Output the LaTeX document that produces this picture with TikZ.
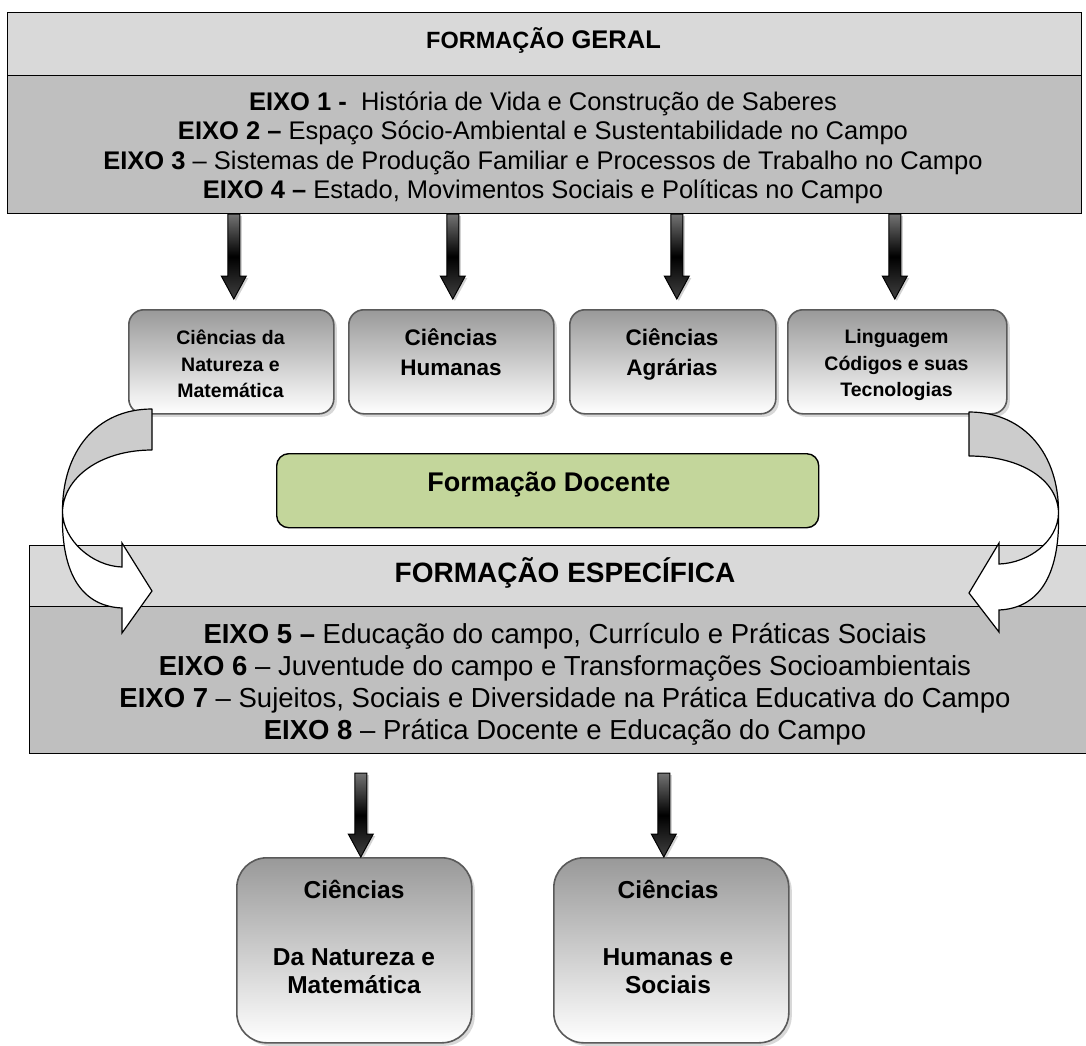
\documentclass[tikz,border=0pt]{standalone}
\usepackage{fontspec}
\setmainfont{Liberation Sans}
\usetikzlibrary{calc,shadows}
\definecolor{hdrfill}{HTML}{D9D9D9}
\definecolor{bodyfill}{HTML}{BFBFBF}
\definecolor{docfill}{HTML}{C3D69B}
\definecolor{edgegray}{HTML}{5A5A5A}
\definecolor{backfill}{HTML}{CCCCCC}
\newcommand\fsz[1]{\fontsize{#1}{#1}\selectfont}
\newcommand\fatarrow[2]{%
  \path[fatarrowstyle] let \p1=#1, \p2=#2 in
   (\x2-6pt,\y1) -- (\x2-6pt,\y2+23pt) -- (\x2-12.5pt,\y2+23pt) -- (\x2,\y2)
   -- (\x2+12.5pt,\y2+23pt) -- (\x2+6pt,\y2+23pt) -- (\x2+6pt,\y1) -- cycle;}
\tikzset{
  panel/.style={draw=black, line width=1.2pt, inner sep=0pt, anchor=north west},
  areabox/.style={draw=edgegray, line width=1.6pt, rounded corners=15pt, top color=black!40, bottom color=white, inner sep=0pt, anchor=north west, drop shadow={shadow xshift=3pt, shadow yshift=-3pt, opacity=.3}},
  bigbox/.style={areabox, rounded corners=30pt},
  docbox/.style={draw=black, line width=1.4pt, rounded corners=12pt, fill=docfill, inner sep=0pt, anchor=north west},
  txt/.style={anchor=base, inner sep=0pt},
  fatarrowstyle/.style={draw=black, line width=1pt, top color=black!55, bottom color=black!75, middle color=black, drop shadow={shadow xshift=2pt, shadow yshift=-2pt, opacity=.35}},
  backband/.style={draw=black, line width=1.2pt, fill=backfill, line join=round},
  frontband/.style={draw=black, line width=1.2pt, fill=white, line join=miter},
}
\begin{document}
\begin{tikzpicture}[x=1pt,y=-1pt]
\useasboundingbox (0,0) rectangle (1086,1045);
\clip (0,0) rectangle (1086,1045);
\fill[white] (0,0) rectangle (1086,1045);

% ---- Formacao Geral
\node[panel, fill=hdrfill, minimum width=1074pt, minimum height=63pt] (geralh) at (7,12) {};
\node[panel, fill=bodyfill, minimum width=1074pt, minimum height=138pt] (geralb) at (7,75) {};
\node[txt, font=\fsz{25.5}\bfseries] (geralt) at (543.5,48) {{\fsz{23.5}FORMAÇÃO} GERAL};
\node[txt, font=\fsz{25.5}] (e1) at (543,110) {\textbf{EIXO 1 -}\ \ História de Vida e Construção de Saberes};
\node[txt, font=\fsz{25.5}] (e2) at (543,139.5) {\textbf{EIXO 2 –} Espaço Sócio-Ambiental e Sustentabilidade no Campo};
\node[txt, font=\fsz{25.5}] (e3) at (543,169) {\textbf{EIXO 3} – Sistemas de Produção Familiar e Processos de Trabalho no Campo};
\node[txt, font=\fsz{25.5}] (e4) at (543,198) {\textbf{EIXO 4 –} Estado, Movimentos Sociais e Políticas no Campo};

% ---- area boxes
\node[areabox, minimum width=205pt, minimum height=104pt] (c1) at (128,309) {};
\node[areabox, minimum width=205pt, minimum height=104pt] (c2) at (348,309) {};
\node[areabox, minimum width=206pt, minimum height=104pt] (c3) at (569,309) {};
\node[areabox, minimum width=219pt, minimum height=104pt] (c4) at (787,309) {};

\node[txt, font=\fsz{19.5}\bfseries] (c1a) at (230.5,344) {Ciências da};
\node[txt, font=\fsz{19.5}\bfseries] (c1b) at (230.5,371.5) {Natureza e};
\node[txt, font=\fsz{19.5}\bfseries] (c1c) at (230.5,397.5) {Matemática};
\node[txt, font=\fsz{22.5}\bfseries] (c2a) at (451,345) {Ciências};
\node[txt, font=\fsz{22.5}\bfseries] (c2b) at (451,375) {Humanas};
\node[txt, font=\fsz{22.5}\bfseries] (c3a) at (672,345) {Ciências};
\node[txt, font=\fsz{22.5}\bfseries] (c3b) at (672,375) {Agrárias};
\node[txt, font=\fsz{19.5}\bfseries] (c4a) at (896.5,343) {Linguagem};
\node[txt, font=\fsz{19.5}\bfseries] (c4b) at (896.5,370) {Códigos e suas};
\node[txt, font=\fsz{19.5}\bfseries] (c4c) at (896.5,396) {Tecnologias};

\fatarrow{(geralb.south -| c1.north)}{([xshift=2.5pt,yshift=10pt]c1.north)}
\fatarrow{(geralb.south -| c2.north)}{([xshift=1.5pt,yshift=10pt]c2.north)}
\fatarrow{(geralb.south -| c3.north)}{([xshift=4pt,yshift=10pt]c3.north)}
\fatarrow{(geralb.south -| c4.north)}{([xshift=-2.5pt,yshift=10pt]c4.north)}

% ---- Formacao Docente
\node[docbox, minimum width=542pt, minimum height=74pt] (doc) at (276,453) {};
\node[txt, font=\fsz{27}\bfseries] (doct) at (549,491) {Formação Docente};

% ---- Formacao Especifica
\node[panel, fill=hdrfill, minimum width=1071pt, minimum height=61pt] (esph) at (29,545) {};
\node[panel, fill=bodyfill, minimum width=1071pt, minimum height=147pt] (espb) at (29,606) {};
\node[txt, font=\fsz{28}\bfseries] (espt) at (565,582) {FORMAÇÃO ESPECÍFICA};
\node[txt, font=\fsz{27.5}] (e5) at (565,643) {\textbf{EIXO 5 –} Educação do campo, Currículo e Práticas Sociais};
\node[txt, font=\fsz{27.5}] (e6) at (565,675) {\textbf{EIXO 6} – Juventude do campo e Transformações Socioambientais};
\node[txt, font=\fsz{27.5}] (e7) at (565,707) {\textbf{EIXO 7} – Sujeitos, Sociais e Diversidade na Prática Educativa do Campo};
\node[txt, font=\fsz{27.5}] (e8) at (565,739) {\textbf{EIXO 8} – Prática Docente e Educação do Campo};

% ---- bottom boxes
\node[bigbox, minimum width=235pt, minimum height=185pt] (b1) at (236,857) {};
\node[bigbox, minimum width=235pt, minimum height=185pt] (b2) at (553,857) {};
\node[txt, font=\fsz{24.5}\bfseries] (b1a) at (354,898) {Ciências};
\node[txt, font=\fsz{24.5}\bfseries] (b1b) at (354,965) {Da Natureza e};
\node[txt, font=\fsz{24.5}\bfseries] (b1c) at (354,993) {Matemática};
\node[txt, font=\fsz{24.5}\bfseries] (b2a) at (668,898) {Ciências};
\node[txt, font=\fsz{24.5}\bfseries] (b2b) at (668,965) {Humanas e};
\node[txt, font=\fsz{24.5}\bfseries] (b2c) at (668,993) {Sociais};

\fatarrow{([yshift=-19pt]espb.south)}{([xshift=6.5pt]b1.north)}
\fatarrow{([yshift=-19pt]espb.south)}{([xshift=-7.5pt]b2.north)}

% ---- curved arrows
\draw[backband] (152,409) .. controls (96,409) and (62,452) .. (62.5,512)
   .. controls (63,478) and (100,450) .. (152,450) -- cycle;
\draw[frontband] (62.5,512) .. controls (63,540) and (92,566) .. (122,567)
   -- (122,543) -- (152,591) -- (122,633) -- (122,608)
   .. controls (78,606) and (61,568) .. (62.5,512) -- cycle;

\draw[backband] (969,412) .. controls (1025,412) and (1059,455) .. (1058.5,513)
   .. controls (1058,480) and (1021,456) .. (969,456) -- cycle;
\draw[frontband] (1058.5,513) .. controls (1058,541) and (1029,563) .. (999,564)
   -- (999,543) -- (969,593) -- (999,632) -- (999,610)
   .. controls (1043,608) and (1060,569) .. (1058.5,513) -- cycle;
\end{tikzpicture}
\end{document}
